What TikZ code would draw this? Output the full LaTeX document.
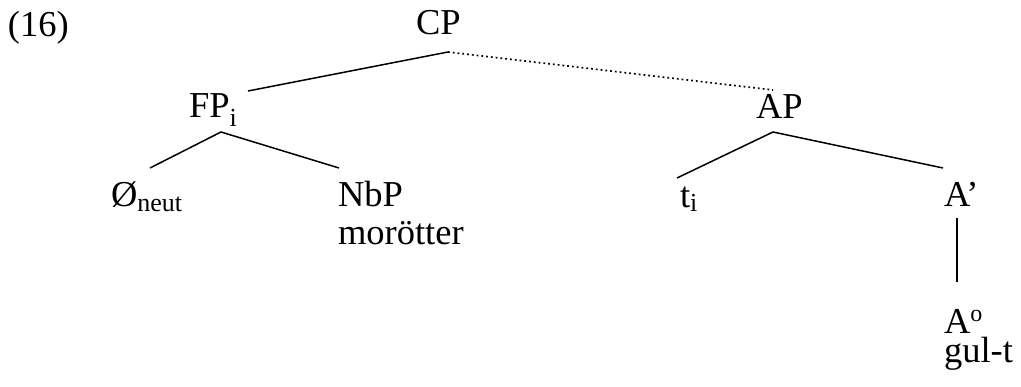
\documentclass[tikz,border=0pt]{standalone}
\usepackage{fontspec}
\setmainfont{Liberation Serif}
\newcommand\lowsub[2]{\raisebox{-#1pt}{\fontsize{26}{26}\selectfont #2}}
\begin{document}
\begin{tikzpicture}[x=1pt,y=-1pt,
  lab/.style={anchor=base west, inner sep=0pt, outer sep=0pt, font=\fontsize{36.5}{38}\selectfont},
  edge/.style={line width=1.5pt},
  dotedge/.style={line width=1.7pt, dash pattern=on 1.8pt off 3pt}]
\useasboundingbox (0,0) rectangle (1021,387);
% labels
\node[lab] (ex) at (8,37) {(16)};
\node[lab] (cp) at (416,35) {CP};
\node[lab] (fp) at (189,118) {FP\lowsub{9}{i}};
\node[lab] (ap) at (756,119) {AP};
\node[lab] (null) at (111,207) {Ø\lowsub{5}{neut}};
\node[lab, align=left] (nbp) at (338,245) {NbP\\morötter};
\node[lab] (t) at (680,208) {t\lowsub{4}{i}};
\node[lab] (abar) at (944,207) {A’};
\node[lab, align=left, font=\fontsize{36.5}{29}\selectfont] (a0) at (944,363)
  {A\raisebox{12pt}{\fontsize{24}{24}\selectfont o}\\gul-t};
% connector end points
\coordinate (cp-foot) at (448,52);
\coordinate (fp-head) at (248,91);
\coordinate (ap-head) at (773,90);
\coordinate (fp-foot) at (221,132);
\coordinate (null-head) at (150,168);
\coordinate (nbp-head) at (339,168);
\coordinate (ap-foot) at (773,132);
\coordinate (t-head) at (677,178);
\coordinate (abar-head) at (943,168);
\coordinate (abar-foot) at (957,218);
\coordinate (a0-head) at (957,282);
% connectors
\draw[edge] (cp-foot) -- (fp-head);
\draw[dotedge] (cp-foot) -- (ap-head);
\draw[edge] (null-head) -- (fp-foot) -- (nbp-head);
\draw[edge] (t-head) -- (ap-foot) -- (abar-head);
\draw[edge] (abar-foot) -- (a0-head);
\end{tikzpicture}
\end{document}
